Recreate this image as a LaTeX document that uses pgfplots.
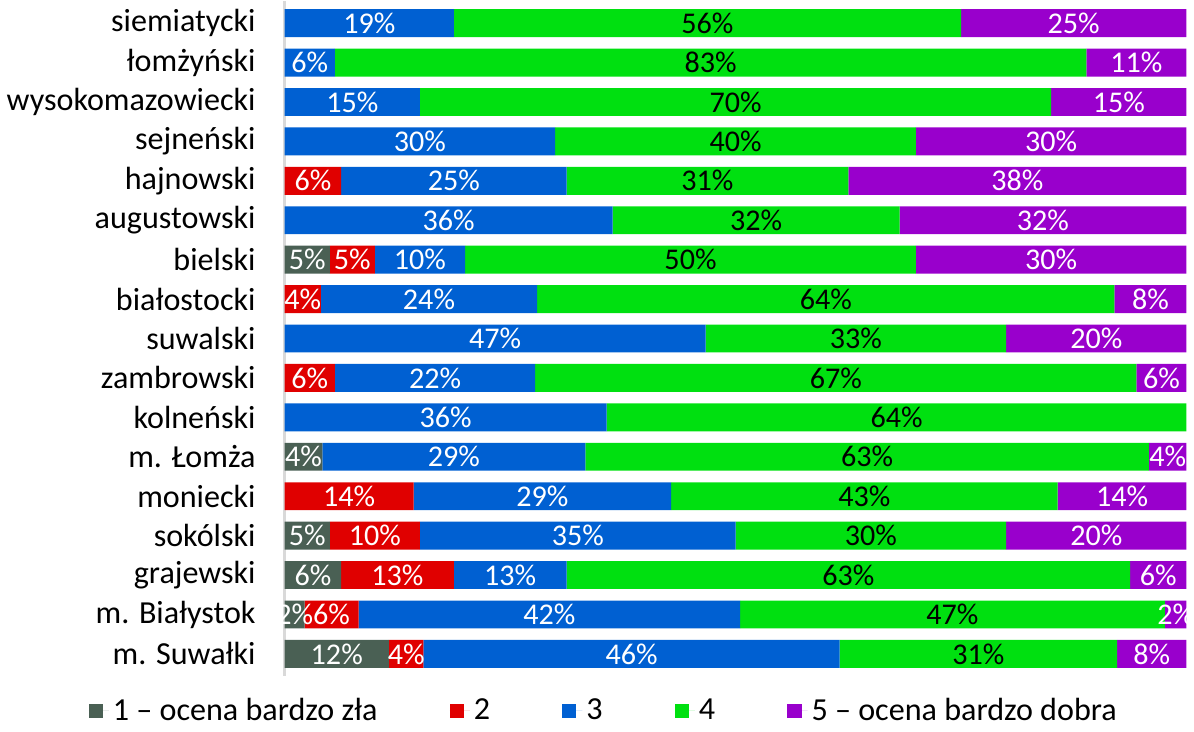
\documentclass[border=0pt]{standalone}
\usepackage{fontspec}
\setmainfont{Carlito}
\usepackage{pgfplots}
\usepackage{pgfplotstable}
\pgfplotsset{compat=1.18}
\definecolor{ocena1}{RGB}{74,96,84}
\definecolor{ocena2}{RGB}{224,0,0}
\definecolor{ocena3}{RGB}{0,96,210}
\definecolor{ocena4}{RGB}{0,224,16}
\definecolor{ocena5}{RGB}{153,0,204}
\definecolor{axisgray}{RGB}{217,217,217}

% shares of answers, rows top to bottom
\pgfplotstableread{
y  a     b     c     d     e     la    lb    lc    ld    le
0  0     0     18.75 56.25 25    {}    {}    19\%  56\%  25\%
1  0     0     5.56  83.33 11.11 {}    {}    6\%   83\%  11\%
2  0     0     15    70    15    {}    {}    15\%  70\%  15\%
3  0     0     30    40    30    {}    {}    30\%  40\%  30\%
4  0     6.25  25    31.25 37.5  {}    6\%   25\%  31\%  38\%
5  0     0     36.36 31.82 31.82 {}    {}    36\%  32\%  32\%
6  5     5     10    50    30    5\%   5\%   10\%  50\%  30\%
7  0     4     24    64    8     {}    4\%   24\%  64\%  8\%
8  0     0     46.67 33.33 20    {}    {}    47\%  33\%  20\%
9  0     5.56  22.22 66.67 5.56  {}    6\%   22\%  67\%  6\%
10 0     0     35.71 64.29 0     {}    {}    36\%  64\%  {}
11 4.17  0     29.17 62.5  4.17  4\%   {}    29\%  63\%  4\%
12 0     14.29 28.57 42.86 14.29 {}    14\%  29\%  43\%  14\%
13 5     10    35    30    20    5\%   10\%  35\%  30\%  20\%
14 6.25  12.5  12.5  62.5  6.25  6\%   13\%  13\%  63\%  6\%
15 2.2   6.0   42.3  47.1  2.4   2\%   6\%   42\%  47\%  2\%
16 11.54 3.85  46.15 30.77 7.69  12\%  4\%   46\%  31\%  8\%
}\dane
% centres of the segments, for the labels
\pgfplotstablecreatecol[create col/expr={\thisrow{a}/2}]{ma}\dane
\pgfplotstablecreatecol[create col/expr={\thisrow{a}+\thisrow{b}/2}]{mb}\dane
\pgfplotstablecreatecol[create col/expr={\thisrow{a}+\thisrow{b}+\thisrow{c}/2}]{mc}\dane
\pgfplotstablecreatecol[create col/expr={\thisrow{a}+\thisrow{b}+\thisrow{c}+\thisrow{d}/2}]{md}\dane
\pgfplotstablecreatecol[create col/expr={\thisrow{a}+\thisrow{b}+\thisrow{c}+\thisrow{d}+\thisrow{e}/2}]{me}\dane

\pgfplotsset{
    wspolne/.style={
        scale only axis,
        width=449.5pt,
        height=336pt,
        xmin=0, xmax=100,
        ymin=-0.55, ymax=16.55,
        y dir=reverse,
    },
}

\begin{document}
\begin{tikzpicture}
\begin{axis}[
    wspolne,
    xbar stacked,
    bar width=13.9pt,
    axis x line=none,
    axis y line*=left,
    y axis line style={draw=axisgray, line width=1.5pt, -},
    ytick={0,...,16},
    yticklabels={siemiatycki, łomżyński, wysokomazowiecki, sejneński, hajnowski,
        augustowski, bielski, białostocki, suwalski, zambrowski, kolneński,
        m. Łomża, moniecki, sokólski, grajewski, m. Białystok, m. Suwałki},
    major tick length=0pt,
    yticklabel style={font=\fontsize{16}{19}\selectfont, xshift=-11pt},
    legend columns=5,
    legend style={draw=none, fill=none, at={(0.355,-0.052)}, anchor=center,
        font=\fontsize{16}{19}\selectfont,
        /tikz/every even column/.append style={column sep=34pt}},
    legend image code/.code={\fill[#1] (0pt,-3.5pt) rectangle (7pt,3.5pt);
        \path (0pt,0pt) -- (10pt,0pt);},
]
\addplot[fill=ocena1, draw=none] table[x=a, y=y] {\dane};
\addplot[fill=ocena2, draw=none] table[x=b, y=y] {\dane};
\addplot[fill=ocena3, draw=none] table[x=c, y=y] {\dane};
\addplot[fill=ocena4, draw=none] table[x=d, y=y] {\dane};
\addplot[fill=ocena5, draw=none] table[x=e, y=y] {\dane};
\legend{1 – ocena bardzo zła, 2, 3, 4, 5 – ocena bardzo dobra}
\end{axis}
% labels in the middle of each segment
\begin{axis}[
    wspolne,
    hide axis,
    point meta=explicit symbolic,
    nodes near coords,
    every node near coord/.append style={font=\fontsize{15}{18}\selectfont,
        anchor=center, inner sep=0pt, text=white},
]
\addplot[draw=none, mark=none] table[x=ma, y=y, meta=la] {\dane};
\addplot[draw=none, mark=none] table[x=mb, y=y, meta=lb] {\dane};
\addplot[draw=none, mark=none] table[x=mc, y=y, meta=lc] {\dane};
\addplot[draw=none, mark=none, every node near coord/.append style={text=black}]
    table[x=md, y=y, meta=ld] {\dane};
\addplot[draw=none, mark=none] table[x=me, y=y, meta=le] {\dane};
\end{axis}
\end{tikzpicture}
\end{document}
